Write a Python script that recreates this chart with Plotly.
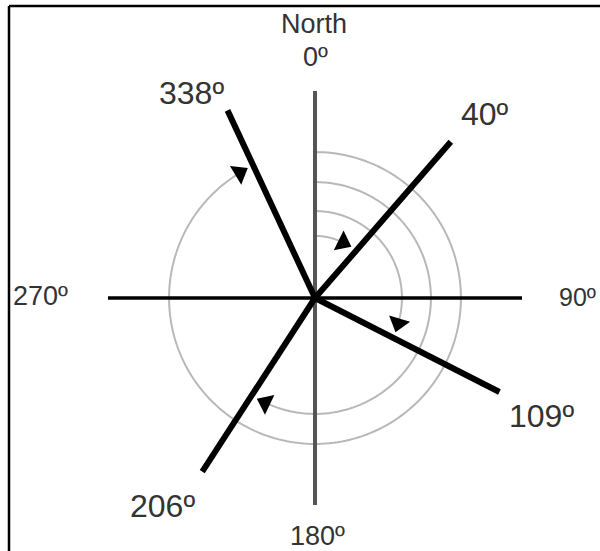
import numpy as np
import plotly.graph_objects as go

# ---- data ----
bearing_values = [40, 109, 206, 338]          # labelled bearings (degrees from north)
bearing_labels = ["40º", "109º", "206º", "338º"]
drawn_bearings = [41, 117, 213, 335]          # direction of each bold line as drawn
cardinal_labels = ["0º", "90º", "180º", "270º"]
north_label = "North"

# ---- styling / geometry ----
W, H = 600, 551
CX, CY = 315, 298          # centre of the diagram in pixels
R_PX = 207                 # length of the axis arms in pixels
RMAX = 1.1                 # radial range (axis arms end at r = 1)
arc_radii = [0.30, 0.42, 0.56, 0.705]
arrow_size = 19
tip_gap_px = 6

half = R_PX * RMAX
dom_x = [(CX - half) / W, (CX + half) / W]
dom_y = [(H - CY - half) / H, (H - CY + half) / H]

fig = go.Figure()

# arcs with arrow heads (clockwise from north to each bearing)
arrow_r, arrow_t, arrow_a = [], [], []
for b, ar in zip(drawn_bearings, arc_radii):
    rpx = ar * R_PX
    tip = b - np.degrees(tip_gap_px / rpx)
    centre = tip - np.degrees((arrow_size / 2) / rpx)
    th = np.linspace(0, tip - 2, 200)
    fig.add_trace(go.Scatterpolar(r=[ar] * len(th), theta=th, mode="lines",
                                  line=dict(color="#b8b8b8", width=2),
                                  hoverinfo="skip"))
    arrow_r.append(ar)
    arrow_t.append(centre)
    arrow_a.append(centre + 90)

# axis arms
fig.add_trace(go.Scatterpolar(r=[1, 0, 1], theta=[0, 0, 180], mode="lines",
                              line=dict(color="#555555", width=4), hoverinfo="skip"))
fig.add_trace(go.Scatterpolar(r=[1, 0, 1], theta=[90, 0, 270], mode="lines",
                              line=dict(color="#000000", width=3.5), hoverinfo="skip"))

# bold bearing lines
for b in drawn_bearings:
    fig.add_trace(go.Scatterpolar(r=[0, 1], theta=[b, b], mode="lines",
                                  line=dict(color="#000000", width=6), hoverinfo="skip"))

fig.add_trace(go.Scatterpolar(r=arrow_r, theta=arrow_t, mode="markers",
                              marker=dict(symbol="triangle-up", size=arrow_size,
                                          angle=arrow_a, color="#000000"),
                              hoverinfo="skip"))

fig.update_layout(
    width=W, height=H, margin=dict(l=0, r=0, t=0, b=0),
    paper_bgcolor="white", showlegend=False,
    polar=dict(domain=dict(x=dom_x, y=dom_y), bgcolor="rgba(0,0,0,0)",
               radialaxis=dict(visible=False, range=[0, RMAX]),
               angularaxis=dict(visible=False, direction="clockwise", rotation=90)),
)

def px_ann(text, x, y, size, xanchor="center"):
    fig.add_annotation(text=text, x=x / W, y=1 - y / H, xref="paper", yref="paper",
                       showarrow=False, xanchor=xanchor, yanchor="middle",
                       font=dict(family="Liberation Sans, Arial", size=size, color="#333333"))

AX = 27
BR = 32
px_ann(north_label, 314, 24, AX)
px_ann(cardinal_labels[0], 315, 57, AX)
px_ann(cardinal_labels[1], 557, 297, 25, "left")
px_ann(cardinal_labels[2], 317, 536, AX)
px_ann(cardinal_labels[3], 11, 296, AX, "left")

px_ann(bearing_labels[0], 459, 114, BR, "left")
px_ann(bearing_labels[1], 507, 416, BR, "left")
px_ann(bearing_labels[2], 197, 506, BR, "right")
px_ann(bearing_labels[3], 226, 93, BR, "right")

# frame (top and left edges)
fig.add_shape(type="line", xref="paper", yref="paper", x0=9 / W, x1=1, y0=1 - 6 / H, y1=1 - 6 / H,
              line=dict(color="black", width=2.5))
fig.add_shape(type="line", xref="paper", yref="paper", x0=9 / W, x1=9 / W, y0=0, y1=1 - 6 / H,
              line=dict(color="black", width=2.5))

fig.write_html("out.html", config={"displayModeBar": False},
               post_script="document.body.style.margin='0';document.body.style.overflow='hidden';")
